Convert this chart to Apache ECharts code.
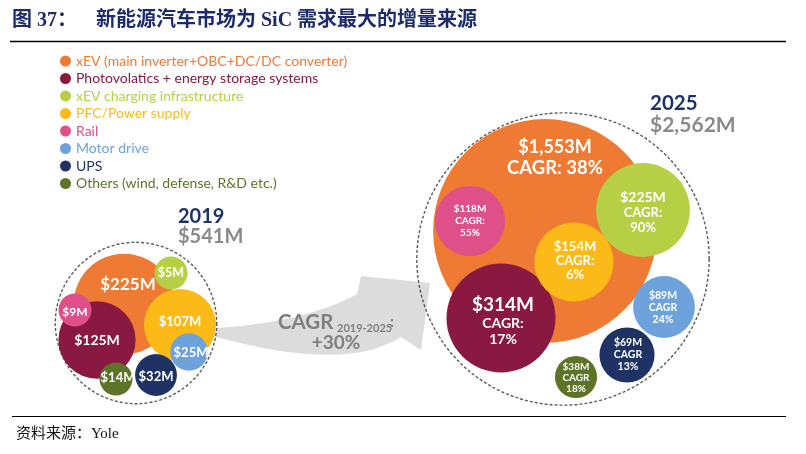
<!DOCTYPE html>
<html><head><meta charset="utf-8">
<script src="https://cdn.jsdelivr.net/npm/echarts@6/dist/echarts.min.js"></script>
<style>html,body{margin:0;padding:0;background:#fff}#c{width:806px;height:454px}</style>
</head><body><div id="c"></div>
<script>
// ---------------- data ----------------
const categories = [
  'xEV (main inverter+OBC+DC/DC converter)',
  'Photovolatics + energy storage systems',
  'xEV charging infrastructure',
  'PFC/Power supply',
  'Rail',
  'Motor drive',
  'UPS',
  'Others (wind, defense, R&D etc.)'
];
const years = ['2019', '2025'];
const totals = [541, 2562];                       // $M
const values2019 = [225, 125, 5, 107, 9, 25, 32, 14];     // $M
const values2025 = [1553, 314, 225, 154, 118, 89, 69, 38]; // $M
const cagr = [38, 17, 90, 6, 55, 24, 13, 18];             // % 2019-2025
const overallCagr = 30;
const cagrPeriod = '2019-2025';

// ---------------- style / layout ----------------
const colors = ['#EE7A33', '#8A1942', '#B6CF45', '#FCBA19', '#DF4F8A', '#6EA2DA', '#1E3363', '#5D7328'];
const layout2019 = { center: [136, 323], k: 4.4,
  pts: [[124, 304], [97, 340], [171, 273], [180, 325], [75, 310], [189, 352], [156, 375], [116, 379]] };
const layout2025 = { center: [563, 259], k: 4.1,
  pts: [[545, 231], [501, 318], [643, 210], [574, 262], [470, 221], [664, 307], [627, 355], [576, 377]] };
const minR = 16.5;
function radius(v, k) { return Math.max(minR, k * Math.pow(v, 0.45)); }

const font = 'Lato, "Open Sans", sans-serif';
const label2019Size = [17, 14, 12.5, 13, 12, 13, 13, 13];
const label2019Offset = [[4, -19], [0, 0], [0, 0], [0, -3], [0, 2], [2, 1], [0, 2], [2, -1]];
const label2025Spec = [
  { h: 18, b: 18.5, lh: 21, lb: 21, one: true, colon: true, off: [10, -73] },
  { h: 19, b: 14, lh: 20, lb: 16, colon: true, off: [2, 3] },
  { h: 14, b: 13, lh: 16, lb: 15, colon: true, off: [0, 2] },
  { h: 13, b: 13, lh: 14, lb: 14, colon: true, off: [1, -1] },
  { h: 10, b: 10, lh: 12, lb: 12, colon: true, off: [0, 0] },
  { h: 10.5, b: 10.5, lh: 12, lb: 12, colon: false, off: [-1, 1] },
  { h: 10.5, b: 10.5, lh: 12, lb: 12, colon: false, off: [1, 0] },
  { h: 10, b: 10, lh: 11, lb: 11, colon: false, off: [0, 1] }
];
const fmtM = v => '$' + v.toLocaleString('en-US') + 'M';

function item2019(i) {
  return {
    value: [layout2019.pts[i][0], layout2019.pts[i][1], values2019[i]],
    symbolSize: 2 * radius(values2019[i], layout2019.k),
    label: { show: true, position: 'inside', offset: label2019Offset[i],
      formatter: fmtM(values2019[i]), color: '#fff', fontFamily: font,
      fontWeight: 'bold', fontSize: label2019Size[i] }
  };
}
function item2025(i) {
  const s = label2025Spec[i];
  const head = '{h|' + fmtM(values2025[i]) + '}';
  const body = s.one ? '\n{b|CAGR: ' + cagr[i] + '%}'
                     : '\n{b|CAGR' + (s.colon ? ':' : '') + '}\n{b|' + cagr[i] + '%}';
  return {
    value: [layout2025.pts[i][0], layout2025.pts[i][1], values2025[i]],
    symbolSize: 2 * radius(values2025[i], layout2025.k),
    label: { show: true, position: 'inside', offset: s.off, formatter: head + body,
      rich: {
        h: { color: '#fff', fontFamily: font, fontWeight: 'bold', fontSize: s.h, lineHeight: s.lh, align: 'center' },
        b: { color: '#fff', fontFamily: font, fontWeight: 'bold', fontSize: s.b, lineHeight: s.lb, align: 'center' }
      } }
  };
}

const series = categories.map((name, i) => ({
  type: 'scatter', name, z: 3, symbol: 'circle',
  itemStyle: { color: colors[i], opacity: 1 },
  emphasis: { disabled: true },
  data: [item2019(i), item2025(i)]
}));

// enclosing dashed circles from the totals
series.unshift({
  type: 'scatter', name: 'total', z: 2, silent: true, symbol: 'circle',
  itemStyle: { color: 'rgba(0,0,0,0)', borderColor: '#333', borderWidth: 1.4, borderType: [3, 2] },
  emphasis: { disabled: true },
  data: [
    { value: [layout2019.center[0], layout2019.center[1], totals[0]], symbolSize: 2 * (layout2019.k * Math.pow(totals[0], 0.45) + 6) },
    { value: [layout2025.center[0], layout2025.center[1], totals[1]], symbolSize: 2 * (layout2025.k * Math.pow(totals[1], 0.45) + 6) }
  ]
});

// decorative arrow outline (cubic curves sampled into a polygon)
function cubic(p0, p1, p2, p3, n) {
  const out = [];
  for (let j = 0; j <= n; j++) {
    const t = j / n, u = 1 - t;
    out.push([
      u*u*u*p0[0] + 3*u*u*t*p1[0] + 3*u*t*t*p2[0] + t*t*t*p3[0],
      u*u*u*p0[1] + 3*u*u*t*p1[1] + 3*u*t*t*p2[1] + t*t*t*p3[1]
    ]);
  }
  return out;
}
const arrowPts = [].concat(
  cubic([216, 328], [260, 326], [320, 315], [357, 294], 24),
  [[361, 276], [430, 283], [421, 350]],
  cubic([401, 337], [370, 356], [320, 365], [216, 337], 24)
);

const titleFont = '"Liberation Serif", "Noto Sans CJK SC", serif';
const navy = '#1D2B6B';

const option = {
  animation: false,
  backgroundColor: '#fff',
  grid: { left: 0, right: 0, top: 0, bottom: 0 },
  xAxis: { type: 'value', min: 0, max: 806, show: false },
  yAxis: { type: 'value', min: 0, max: 454, inverse: true, show: false },
  legend: {
    orient: 'vertical', left: 55, top: 49, itemWidth: 11, itemHeight: 11, itemGap: 3.5,
    icon: 'circle', selectedMode: false,
    textStyle: { fontFamily: font, fontSize: 14, lineHeight: 13.5 },
    data: categories.map((c, i) => ({ name: c, textStyle: { color: colors[i] } }))
  },
  graphic: [
    { type: 'polygon', z: 0, shape: { points: arrowPts }, style: { fill: '#DCDCDC' } },
    { type: 'text', x: 12, y: 21, z: 10, style: { text: '图 37：', fontFamily: titleFont, fontWeight: 'bold', fontSize: 20, fill: navy, verticalAlign: 'middle' } },
    { type: 'text', x: 96, y: 21, z: 10, style: { text: '新能源汽车市场为 SiC 需求最大的增量来源', fontFamily: titleFont, fontWeight: 'bold', fontSize: 20, fill: navy, verticalAlign: 'middle' } },
    { type: 'line', z: 10, shape: { x1: 10, y1: 41.5, x2: 786, y2: 41.5 }, style: { stroke: '#000', lineWidth: 1.5 } },
    { type: 'line', z: 10, shape: { x1: 12, y1: 416.5, x2: 786, y2: 416.5 }, style: { stroke: '#000', lineWidth: 1 } },
    { type: 'text', x: 16, y: 434, z: 10, style: { text: '资料来源：Yole', fontFamily: titleFont, fontSize: 15, fill: '#111', verticalAlign: 'middle' } },
    { type: 'text', x: 278, y: 322, z: 10, style: { text: 'CAGR', fontFamily: font, fontWeight: 'bold', fontSize: 20.5, fill: '#7F7F7F', verticalAlign: 'middle' } },
    { type: 'text', x: 337, y: 328, z: 10, style: { text: cagrPeriod, fontFamily: font, fontWeight: 'bold', fontSize: 11, fill: '#7F7F7F', verticalAlign: 'middle' } },
    { type: 'text', x: 390, y: 322, z: 10, style: { text: ':', fontFamily: font, fontWeight: 'bold', fontSize: 15, fill: '#7F7F7F', verticalAlign: 'middle' } },
    { type: 'text', x: 336, y: 343, z: 10, style: { text: '+' + overallCagr + '%', fontFamily: font, fontWeight: 'bold', fontSize: 19, fill: '#7F7F7F', align: 'center', verticalAlign: 'middle' } },
    { type: 'text', x: 178, y: 217, z: 10, style: { text: years[0], fontFamily: font, fontWeight: 'bold', fontSize: 20, fill: '#1E3363', verticalAlign: 'middle' } },
    { type: 'text', x: 178, y: 237, z: 10, style: { text: fmtM(totals[0]), fontFamily: font, fontWeight: 'bold', fontSize: 20, fill: '#8A8A8A', verticalAlign: 'middle' } },
    { type: 'text', x: 650, y: 103, z: 10, style: { text: years[1], fontFamily: font, fontWeight: 'bold', fontSize: 20.5, fill: '#1E3363', verticalAlign: 'middle' } },
    { type: 'text', x: 650, y: 125, z: 10, style: { text: fmtM(totals[1]), fontFamily: font, fontWeight: 'bold', fontSize: 21, fill: '#8A8A8A', verticalAlign: 'middle' } }
  ],
  series
};

const chart = echarts.init(document.getElementById('c'), null, { renderer: 'canvas' });
chart.setOption(option);
</script>
</body></html>
